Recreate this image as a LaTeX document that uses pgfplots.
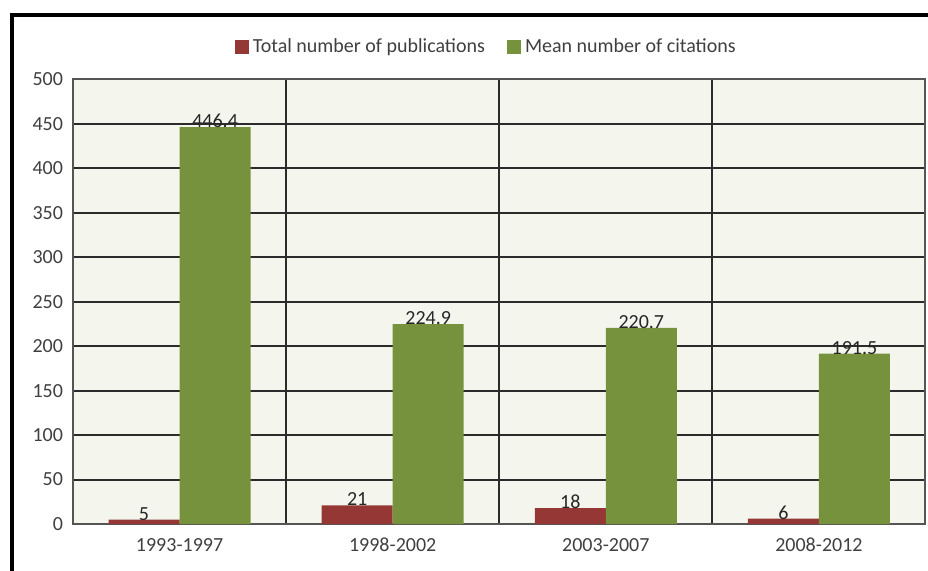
\documentclass[border=0pt]{standalone}
\usepackage{pgfplots}
\pgfplotsset{compat=1.18}
\usepackage{fontspec}
\setmainfont{Carlito}
\definecolor{pubred}{HTML}{953735}
\definecolor{citgreen}{HTML}{76923C}
\definecolor{plotbg}{HTML}{F4F6EE}
\definecolor{gridc}{HTML}{2B2B2B}
\definecolor{txt}{HTML}{404040}
\begin{document}
\begin{tikzpicture}
% page extent (0.5pt per pixel)
\path[use as bounding box] (-36.5pt,-23pt) rectangle (427.5pt,262pt);
\fill[white] (-36.5pt,-23pt) rectangle (427.5pt,262pt);
% outer chart frame
\draw[line width=2pt,black] (-30.25pt,-60pt) -- (-30.25pt,254.75pt) -- (460pt,254.75pt);
\begin{axis}[
  at={(0pt,0pt)}, anchor=south west,
  scale only axis,
  width=426.25pt, height=222.3pt,
  xmin=-0.5, xmax=3.5,
  ymin=0, ymax=500,
  ytick={0,50,...,500},
  xtick={0,1,2,3},
  xticklabels={1993-1997,1998-2002,2003-2007,2008-2012},
  minor xtick={0.5,1.5,2.5},
  ymajorgrids, xminorgrids,
  major grid style={gridc, line width=1pt},
  minor grid style={gridc, line width=1pt},
  major tick length=0pt, minor tick length=0pt,
  axis line style={gridc!80, line width=1pt},
  axis background/.style={fill=plotbg},
  tick label style={font=\fontsize{10pt}{12pt}\selectfont, text=txt},
  /pgf/number format/assume math mode=true,
  yticklabel style={xshift=-1.5pt},
  xticklabel style={yshift=-3.5pt},
  ybar,
  bar width=0.333,
  nodes near coords,
  every node near coord/.append style={font=\fontsize{10pt}{12pt}\selectfont, text=black!85, anchor=south, inner sep=0pt, yshift=-0.5pt},
  legend columns=2,
  legend style={at={(0.486,1.073)}, anchor=center, draw=none, fill=none,
    font=\fontsize{10pt}{12pt}\selectfont, text=txt,
    /tikz/every even column/.append style={column sep=9pt}},
  legend image code/.code={\fill[#1] (0pt,-3.5pt) rectangle (7pt,3.5pt);},
]
\addplot[fill=pubred, draw=none, bar shift=-0.1667,
  point meta=explicit symbolic] coordinates {
  (0,5) [5] (1,21) [21] (2,18) [18] (3,6) [6]};
\addlegendentry{Total number of publications}
\addplot[fill=citgreen, draw=none, bar shift=0.1667,
  point meta=explicit symbolic] coordinates {
  (0,446.4) [446.4] (1,224.9) [224.9] (2,220.7) [220.7] (3,191.5) [191.5]};
\addlegendentry{Mean number of citations}
\end{axis}
\end{tikzpicture}
\end{document}
